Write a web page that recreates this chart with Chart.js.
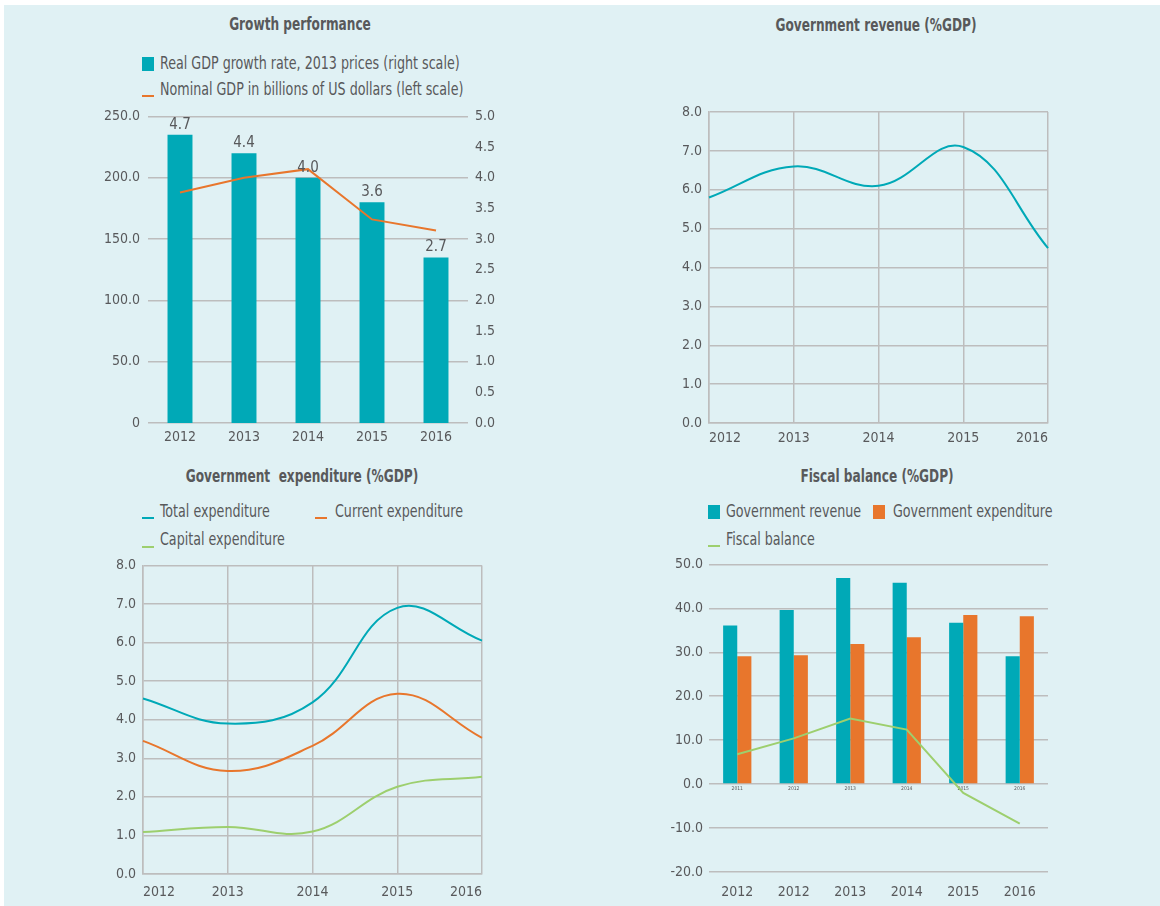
<!DOCTYPE html>
<html>
<head>
<meta charset="utf-8">
<script src="https://cdn.jsdelivr.net/npm/chart.js@4.4.1/dist/chart.umd.min.js"></script>
<style>
  html, body { margin: 0; padding: 0; background: #ffffff; width: 1160px; height: 906px; overflow: hidden; }
  #page { position: absolute; left: 4px; top: 5px; width: 1156px; height: 901px; background: #e0f1f4; }
  canvas { position: absolute; }
  .t { position: absolute; font-family: "DejaVu Sans Condensed", "Liberation Sans Narrow", sans-serif; color: #58595b; white-space: nowrap;
       font-size: 17px; line-height: 20px; height: 20px; transform: scaleX(0.83); transform-origin: left center; }
  .title { font-weight: bold; font-size: 18px; transform: translateX(-50%) scaleX(0.75); transform-origin: center center; }
  .sq { position: absolute; width: 12px; height: 14px; }
  .ln { position: absolute; width: 12px; height: 2px; }
</style>
</head>
<body>
<div id="page"></div>

<div class="t title" style="left:300px; top:14px;">Growth performance</div>
<div class="sq" style="left:142px; top:57px; background:#00a9b7;"></div>
<div class="t" id="lg1a" style="left:160px; top:53px;"></div>
<div class="ln" style="left:142px; top:95px; background:#e8762c;"></div>
<div class="t" id="lg1b" style="left:160px; top:79px;"></div>

<div class="t title" style="left:876px; top:15px;">Government revenue (%GDP)</div>

<div class="t title" style="left:302px; top:466px;">Government&nbsp; expenditure (%GDP)</div>
<div class="ln" style="left:142px; top:517px; background:#00a9b7;"></div>
<div class="t" id="lg3a" style="left:160px; top:501px;"></div>
<div class="ln" style="left:315px; top:517px; background:#e8762c;"></div>
<div class="t" id="lg3b" style="left:335px; top:501px;"></div>
<div class="ln" style="left:142px; top:546px; background:#9dcf6e;"></div>
<div class="t" id="lg3c" style="left:160px; top:529px;"></div>

<div class="t title" style="left:877px; top:466px;">Fiscal balance (%GDP)</div>
<div class="sq" style="left:708px; top:505px; background:#00a9b7;"></div>
<div class="t" id="lg4a" style="left:726px; top:501px;"></div>
<div class="sq" style="left:873px; top:505px; background:#e8762c;"></div>
<div class="t" id="lg4b" style="left:893px; top:501px;"></div>
<div class="ln" style="left:708px; top:545px; background:#9dcf6e;"></div>
<div class="t" id="lg4c" style="left:726px; top:529px;"></div>

<canvas id="c1" width="440" height="355" style="left:80px; top:100px;"></canvas>
<canvas id="c2" width="460" height="360" style="left:660px; top:95px;"></canvas>
<canvas id="c3" width="420" height="356" style="left:90px; top:550px;"></canvas>
<canvas id="c4" width="460" height="356" style="left:660px; top:550px;"></canvas>

<script>
// ---- data ----
const years = ['2012', '2013', '2014', '2015', '2016'];

const growthName = 'Real GDP growth rate, 2013 prices (right scale)';
const growthRate = [4.7, 4.4, 4.0, 3.6, 2.7];
const nominalName = 'Nominal GDP in billions of US dollars (left scale)';
const nominalGdp = [188, 200, 207, 166, 157];

const revenueGdp = [5.8, 6.6, 6.1, 7.1, 4.5];

const expNames = ['Total expenditure', 'Current expenditure', 'Capital expenditure'];
const totalExp = [4.55, 3.9, 4.45, 6.9, 6.05];
const currentExp = [3.45, 2.67, 3.32, 4.67, 3.53];
const capitalExp = [1.09, 1.22, 1.1, 2.26, 2.52];

const fiscalNames = ['Government revenue', 'Government expenditure', 'Fiscal balance'];
const fiscalYears = ['2011', '2012', '2013', '2014', '2015', '2016'];
const fiscalAxisYears = ['2012', '2012', '2013', '2014', '2015', '2016'];
const fbRevenue = [36.1, 39.6, 46.9, 45.8, 36.7, 29.1];
const fbExpenditure = [29.1, 29.3, 31.9, 33.4, 38.5, 38.2];
const fbBalance = [6.8, 10.4, 14.9, 12.4, -2.0, -9.0];

// ---- look ----
const FONT = '"DejaVu Sans Condensed", "Liberation Sans Narrow", sans-serif';
const TEAL = '#00a9b7';
const ORANGE = '#e8762c';
const GREEN = '#9dcf6e';
const GRID = '#bdbdbd';
const TEXT = '#58595b';

Chart.defaults.font.family = FONT;
Chart.defaults.font.size = 14;
Chart.defaults.color = TEXT;
Chart.defaults.animation = false;
Chart.defaults.responsive = false;
Chart.defaults.plugins.legend.display = false;
Chart.defaults.plugins.tooltip.enabled = false;

// legend texts
document.getElementById('lg1a').textContent = growthName;
document.getElementById('lg1b').textContent = nominalName;
document.getElementById('lg3a').textContent = expNames[0];
document.getElementById('lg3b').textContent = expNames[1];
document.getElementById('lg3c').textContent = expNames[2];
document.getElementById('lg4a').textContent = fiscalNames[0];
document.getElementById('lg4b').textContent = fiscalNames[1];
document.getElementById('lg4c').textContent = fiscalNames[2];

const fixW = w => s => { s.width = w; };
const fixH = h => s => { s.height = h; };
const oneDec = v => Number(v).toFixed(1);

// value labels over the bars
const barLabels = {
  id: 'barLabels',
  afterDatasetsDraw(chart) {
    const ctx = chart.ctx;
    chart.data.datasets.forEach((ds, i) => {
      if (ds.type !== 'bar') return;
      chart.getDatasetMeta(i).data.forEach((bar, j) => {
        ctx.save();
        ctx.font = '15px ' + FONT;
        ctx.fillStyle = TEXT;
        ctx.textAlign = 'center';
        ctx.textBaseline = 'alphabetic';
        ctx.fillText(oneDec(ds.data[j]), bar.x, bar.y - 6);
        ctx.restore();
      });
    });
  }
};

// ========== Growth performance ==========
new Chart(document.getElementById('c1'), {
  data: {
    labels: years,
    datasets: [
      { type: 'line', label: nominalName, data: nominalGdp, yAxisID: 'y', borderColor: ORANGE, borderWidth: 2, pointRadius: 0, tension: 0, order: 0 },
      { type: 'bar', label: growthName, data: growthRate, yAxisID: 'y1', backgroundColor: TEAL, categoryPercentage: 1, barPercentage: 0.39, order: 1 }
    ]
  },
  options: {
    layout: { padding: { top: 14, right: 0, bottom: 0, left: 0 } },
    scales: {
      x: { grid: { display: false, drawTicks: false }, border: { display: false }, ticks: { padding: 6, maxRotation: 0 }, afterFit: fixH(32) },
      y: {
        position: 'left', min: 0, max: 250,
        ticks: { stepSize: 50, padding: 8, callback: v => v === 0 ? '0' : oneDec(v) },
        grid: { color: GRID, lineWidth: 1.5, drawTicks: false }, border: { display: false },
        afterFit: fixW(68)
      },
      y1: {
        position: 'right', min: 0, max: 5,
        ticks: { stepSize: 0.5, padding: 7, callback: oneDec },
        grid: { display: false, drawTicks: false }, border: { display: false },
        afterFit: fixW(52)
      }
    }
  },
  plugins: [barLabels]
});

// ========== Government revenue ==========
new Chart(document.getElementById('c2'), {
  type: 'line',
  data: {
    labels: years,
    datasets: [
      { label: 'Government revenue', data: revenueGdp, borderColor: TEAL, borderWidth: 2, pointRadius: 0, tension: 0.4 }
    ]
  },
  options: {
    layout: { padding: { top: 17, right: 72, bottom: 0, left: 0 } },
    scales: {
      x: {
        offset: false,
        grid: { color: GRID, lineWidth: 1.5, drawTicks: false }, border: { color: GRID, width: 1.5 },
        ticks: { padding: 7, align: 'inner', maxRotation: 0 }, afterFit: fixH(32)
      },
      y: {
        min: 0, max: 8,
        ticks: { stepSize: 1, padding: 7, callback: oneDec },
        grid: { color: GRID, lineWidth: 1.5, drawTicks: false }, border: { color: GRID, width: 1.5 },
        afterFit: fixW(49)
      }
    }
  }
});

// ========== Government expenditure ==========
new Chart(document.getElementById('c3'), {
  type: 'line',
  data: {
    labels: years,
    datasets: [
      { label: expNames[0], data: totalExp, borderColor: TEAL, borderWidth: 2, pointRadius: 0, tension: 0.4 },
      { label: expNames[1], data: currentExp, borderColor: ORANGE, borderWidth: 2, pointRadius: 0, tension: 0.4 },
      { label: expNames[2], data: capitalExp, borderColor: GREEN, borderWidth: 2, pointRadius: 0, tension: 0.4 }
    ]
  },
  options: {
    layout: { padding: { top: 13, right: 28, bottom: 0, left: 0 } },
    scales: {
      x: {
        offset: false,
        grid: { color: GRID, lineWidth: 1.5, drawTicks: false }, border: { color: GRID, width: 1.5 },
        ticks: { padding: 10, align: 'inner', maxRotation: 0 }, afterFit: fixH(32)
      },
      y: {
        min: 0, max: 8,
        ticks: { stepSize: 1, padding: 7, callback: oneDec },
        grid: { color: GRID, lineWidth: 1.5, drawTicks: false }, border: { color: GRID, width: 1.5 },
        afterFit: fixW(53)
      }
    }
  }
});

// ========== Fiscal balance ==========
new Chart(document.getElementById('c4'), {
  type: 'bar',
  data: {
    labels: fiscalYears,
    datasets: [
      { type: 'line', label: fiscalNames[2], data: fbBalance, borderColor: GREEN, borderWidth: 2, pointRadius: 0, tension: 0, order: 0 },
      { label: fiscalNames[0], data: fbRevenue, backgroundColor: TEAL, categoryPercentage: 0.5, barPercentage: 1, order: 1 },
      { label: fiscalNames[1], data: fbExpenditure, backgroundColor: ORANGE, categoryPercentage: 0.5, barPercentage: 1, order: 2 }
    ]
  },
  options: {
    layout: { padding: { top: 13, right: 72, bottom: 0, left: 0 } },
    scales: {
      x: {
        position: { y: 0 },
        grid: { display: false, drawTicks: false }, border: { display: false },
        ticks: { font: { size: 5 }, padding: 2, maxRotation: 0 },
        afterFit: fixH(0)
      },
      x2: {
        type: 'category', labels: fiscalAxisYears, position: 'bottom', offset: true,
        grid: { display: false, drawTicks: false }, border: { display: false },
        ticks: { padding: 12, maxRotation: 0 }, afterFit: fixH(34)
      },
      y: {
        min: -20, max: 50,
        ticks: { stepSize: 10, padding: 6, callback: oneDec },
        grid: { color: GRID, lineWidth: 1.5, drawTicks: false }, border: { display: false },
        afterFit: fixW(49)
      }
    }
  }
});
</script>
</body>
</html>
